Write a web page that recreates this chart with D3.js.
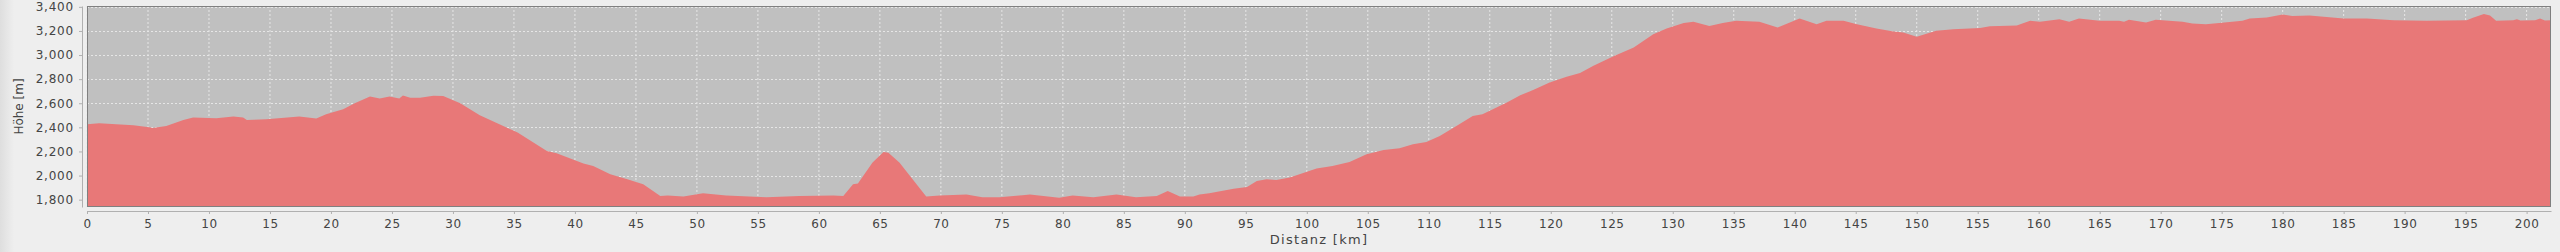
<!DOCTYPE html>
<html>
<head>
<meta charset="utf-8">
<script src="https://cdn.jsdelivr.net/npm/d3@7"></script>
<style>
  html, body { margin: 0; padding: 0; background: #eeeeee; }
  svg { display: block; }
  .tick text { font-family: "DejaVu Sans", sans-serif; fill: #444; }
</style>
</head>
<body>
<div id="chart"></div>
<script>
// hoehenprofil - distanz (km) vs. hoehe (m)

const distanz = [
  0, 1.0, 3.8, 5.1, 5.4, 6.5, 7.9, 8.7, 10.6, 12.0, 12.8, 13.1, 14.7, 17.4,
  18.8, 19.6, 21.0, 21.9, 23.2, 24.0, 24.8, 25.6, 25.9, 26.5, 27.3, 28.4, 29.2,
  30.6, 32.2, 35.3, 37.7, 38.5, 40.7, 41.5, 42.9, 44.3, 45.6, 47.0, 47.6, 48.9,
  50.5, 52.4, 55.7, 58.4, 61.2, 62.0, 62.8, 63.2, 64.4, 65.3, 65.7, 66.6, 68.8,
  69.9, 72.1, 73.4, 74.8, 77.3, 79.7, 80.8, 82.5, 84.4, 86.0, 87.7, 88.6, 89.6,
  90.7, 91.2, 92.0, 94.0, 95.1, 95.9, 96.7, 97.5, 98.6, 99.4, 100.8, 102.1,
  103.5, 104.9, 106.3, 107.6, 108.7, 109.8, 110.9, 112.5, 113.6, 114.4, 116.4,
  117.5, 118.6, 119.9, 121.3, 122.4, 123.5, 125.1, 126.8, 128.4, 129.5, 130.9,
  131.7, 133.0, 134.1, 135.2, 137.1, 138.6, 140.4, 141.8, 142.6, 144.0, 145.1,
  146.7, 148.1, 148.9, 150.0, 151.6, 153.0, 155.2, 156.0, 158.2, 159.3, 160.1,
  161.7, 162.5, 163.3, 165.0, 166.6, 167.0, 167.4, 168.8, 169.6, 171.8, 172.6,
  173.7, 174.8, 176.7, 177.3, 178.7, 180.0, 180.8, 182.2, 185.0, 186.9, 189.1,
  191.8, 195.1, 195.6, 196.5, 197.0, 197.5, 198.9, 199.2, 199.5, 200.7, 201.1,
  201.5, 202.0
];

const hoehe = [
  2426, 2433, 2417, 2400, 2395, 2412, 2462, 2481, 2475, 2490, 2481, 2462, 2467, 2490,
  2473, 2509, 2550, 2598, 2656, 2640, 2656, 2640, 2665, 2645, 2645, 2663, 2660,
  2601, 2500, 2357, 2204, 2185, 2099, 2079, 2010, 1969, 1927, 1830, 1834, 1826,
  1853, 1834, 1819, 1830, 1834, 1830, 1927, 1934, 2108, 2196, 2190, 2108, 1826,
  1834, 1842, 1820, 1819, 1842, 1815, 1834, 1819, 1842, 1819, 1830, 1872, 1826,
  1826, 1842, 1853, 1891, 1905, 1955, 1969, 1964, 1983, 2010, 2058, 2079,
  2113, 2177, 2212, 2226, 2260, 2279, 2329, 2426, 2495, 2509, 2606,
  2667, 2711, 2772, 2819, 2850, 2911, 2988, 3063, 3173, 3220, 3265,
  3276, 3242, 3265, 3284, 3276, 3229, 3303, 3256, 3284, 3284, 3256,
  3220, 3195, 3187, 3151, 3201, 3215, 3225, 3238, 3245, 3284, 3276,
  3298, 3276, 3303, 3284, 3284, 3276, 3292, 3270, 3292, 3276, 3262,
  3256, 3265, 3284, 3303, 3312, 3337, 3323, 3328, 3303, 3303, 3289,
  3284, 3289, 3310, 3340, 3328, 3284, 3289, 3298, 3287, 3289, 3303,
  3287, 3289
];

const xTicks = d3.range(0, 201, 5);
const yTicks = [1800, 2000, 2200, 2400, 2600, 2800, 3000, 3200, 3400];

const data = distanz.map((d, i) => ({ km: d, h: hoehe[i] }));

const W = 2560, H = 252;
const margin = { top: 6, right: 9, bottom: 45, left: 87 };
const width  = W - margin.left - margin.right;
const height = H - margin.top - margin.bottom;

const svg = d3.select("#chart").append("svg")
  .attr("width", W)
  .attr("height", H);

// leichter schatten links
const grad = svg.append("defs").append("linearGradient")
  .attr("id", "shade").attr("x1", 0).attr("x2", 1);
grad.append("stop").attr("offset", 0).attr("stop-color", "#dedede");
grad.append("stop").attr("offset", 1).attr("stop-color", "#eeeeee");
svg.append("rect").attr("width", 14).attr("height", H).attr("fill", "url(#shade)");

const g = svg.append("g").attr("transform", `translate(${margin.left},${margin.top})`);

const x = d3.scaleLinear().domain([0, 202]).range([0, width]);
const y = d3.scaleLinear().domain([1739, 3407]).range([height, 0]);

// hintergrund
g.append("rect").attr("width", width).attr("height", height).attr("fill", "#c0c0c0");

// gitter
g.append("g")
  .selectAll("line.vg")
  .data(xTicks)
  .join("line")
  .attr("x1", d => x(d)).attr("x2", d => x(d))
  .attr("y1", 0).attr("y2", height)
  .attr("stroke", "#e6e6e6").attr("stroke-width", 1)
  .attr("stroke-dasharray", "2,2");

g.append("g")
  .selectAll("line.hg")
  .data(yTicks)
  .join("line")
  .attr("x1", 0).attr("x2", width)
  .attr("y1", d => Math.round(y(d)) + 0.5).attr("y2", d => Math.round(y(d)) + 0.5)
  .attr("stroke", "#e6e6e6").attr("stroke-width", 1)
  .attr("stroke-dasharray", "2,2");

// flaeche
const area = d3.area()
  .x(d => x(d.km))
  .y0(height)
  .y1(d => y(d.h));

g.append("path")
  .datum(data)
  .attr("d", area)
  .attr("fill", "#e87878");

// rahmen
g.append("rect")
  .attr("x", 0.5).attr("y", 0.5)
  .attr("width", width - 1).attr("height", height - 1)
  .attr("fill", "none").attr("stroke", "#808080");

// x-achse
const xAxis = svg.append("g")
  .attr("transform", `translate(${margin.left},${margin.top + height + 4})`)
  .call(d3.axisBottom(x).tickValues(xTicks).tickSize(3).tickPadding(5).tickSizeOuter(0));
xAxis.select(".domain").attr("stroke", "#b0b0b0");
xAxis.selectAll(".tick line").attr("stroke", "#b0b0b0");
xAxis.selectAll("text").style("font-size", "12px").style("letter-spacing", "0.6px").attr("fill", "#444");

// y-achse
const yAxis = svg.append("g")
  .attr("transform", `translate(${margin.left - 5},${margin.top})`)
  .call(d3.axisLeft(y).tickValues(yTicks).tickSize(3).tickPadding(5).tickSizeOuter(0)
    .tickFormat(d3.format(",")));
yAxis.select(".domain").attr("stroke", "#b0b0b0");
yAxis.selectAll(".tick line").attr("stroke", "#b0b0b0");
yAxis.selectAll("text").style("font-size", "12px").style("letter-spacing", "0.8px").attr("fill", "#444");

// achsentitel
svg.append("text")
  .attr("x", margin.left + width / 2)
  .attr("y", 244)
  .attr("text-anchor", "middle")
  .attr("font-family", "DejaVu Sans, sans-serif")
  .attr("font-size", "13px")
  .attr("letter-spacing", "1.3px")
  .attr("fill", "#444")
  .text("Distanz [km]");

svg.append("text")
  .attr("transform", `translate(23,${margin.top + height / 2}) rotate(-90)`)
  .attr("text-anchor", "middle")
  .attr("font-family", "DejaVu Sans, sans-serif")
  .attr("font-size", "12px")
  .attr("fill", "#444")
  .text("Höhe [m]");
</script>
</body>
</html>
